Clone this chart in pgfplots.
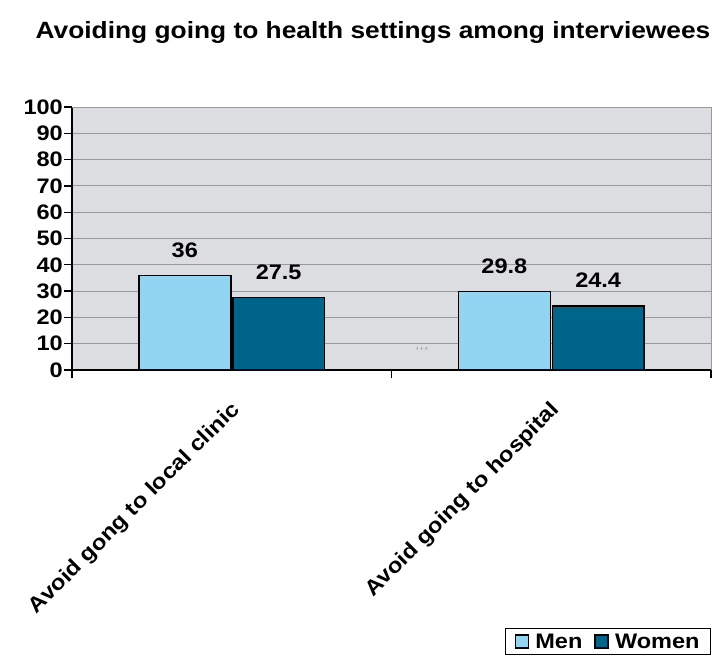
\documentclass[border=0pt]{standalone}
\usepackage{pgfplots}
\pgfplotsset{compat=1.18}
\usepackage{fontspec}
\setmainfont{Liberation Sans}[FakeStretch=1.12]
\definecolor{menc}{HTML}{91D5F2}
\definecolor{womc}{HTML}{00658B}
\definecolor{bgc}{HTML}{DCDDE0}
\definecolor{gridc}{HTML}{9A9A9C}
\begin{document}
\begin{tikzpicture}
\path[use as bounding box] (0pt,0pt) rectangle (719pt,-661pt);
\node[font=\fontsize{23.5}{26}\selectfont\bfseries] at (373pt,-32pt) {Avoiding going to health settings among interviewees};
\begin{axis}[
  at={(72pt,-370pt)}, anchor=south west,
  scale only axis, width=639pt, height=263pt,
  xmin=-0.5, xmax=1.5, ymin=0, ymax=100,
  ybar, bar width=0.2875, bar shift auto,
  axis background/.style={fill=bgc},
  axis x line*=bottom, axis y line*=left,
  ytick={0,10,...,100},
  ymajorgrids, grid style={gridc, line width=1pt},
  y axis line style={black, line width=1.3pt},
  x axis line style={black, line width=1.3pt},
  xtick={-0.5,0.5,1.5}, xticklabels={},
  tick style={black, line width=1.3pt},
  major tick length=8pt,
  xtick align=outside, ytick align=outside,
  /pgf/number format/assume math mode=true,
  yticklabel style={font=\fontsize{21}{24}\selectfont\bfseries, inner xsep=1pt},
  extra x ticks={0,1},
  extra x tick labels={Avoid gong to local clinic, Avoid going to hospital},
  extra x tick style={major tick length=0pt, grid=none,
    tick label style={rotate=45, anchor=north east, font=\fontsize{21.3}{24}\selectfont\bfseries, xshift=-19pt, yshift=-16pt}},
  nodes near coords,
  every node near coord/.append style={font=\fontsize{21}{24}\selectfont\bfseries, yshift=14pt},
  point meta=explicit symbolic,
  legend style={at={(1,-1.0837)}, anchor=south east, legend columns=2,
    draw=black, line width=1pt, font=\fontsize{21}{24}\selectfont\bfseries,
    inner xsep=9pt, inner ysep=3pt,
    /tikz/every even column/.style={column sep=10pt}},
  legend image code/.code={\draw[#1, line width=1.2pt, draw=black] (0pt,-6.5pt) rectangle (13pt,6.5pt);
    \path[draw=none, fill=none] (0pt,0pt) -- (18pt,0pt);},
  clip=false,
]
\addplot[fill=menc, draw=black, line width=1.5pt] coordinates {(0,36) [36] (1,29.8) [29.8]};
\addplot[fill=womc, draw=black, line width=1.5pt] coordinates {(0,27.5) [27.5] (1,24.4) [24.4]};
\legend{Men, Women}
\draw[gridc, line width=1pt] (axis cs:-0.5,100) -- (axis cs:1.5,100) -- (axis cs:1.5,0);
\node[black!55, font=\fontsize{10}{10}\selectfont] at (axis cs:0.595,7.2) {`\kern2pt`\kern2pt`};
\end{axis}
\end{tikzpicture}
\end{document}
